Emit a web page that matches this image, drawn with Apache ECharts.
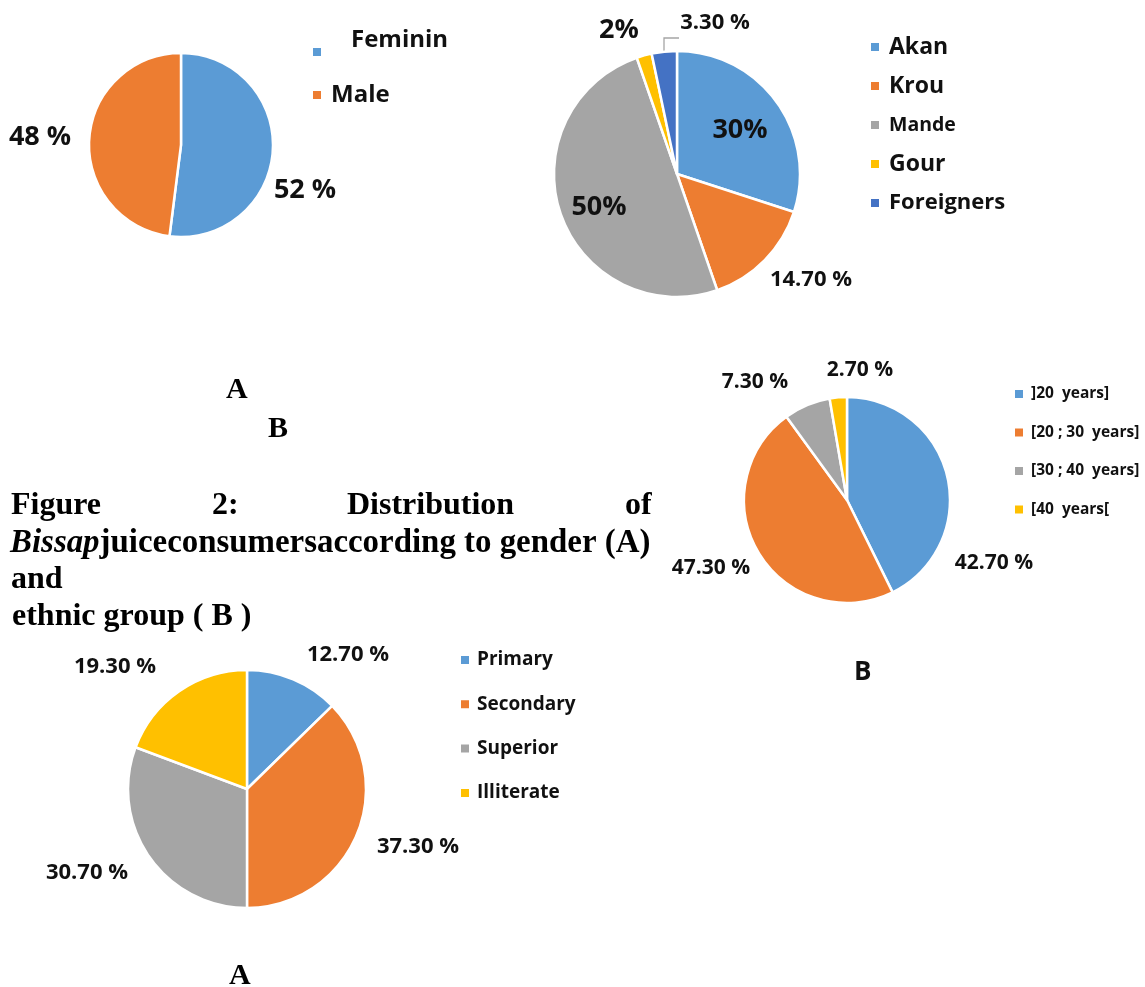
<!DOCTYPE html>
<html><head><meta charset="utf-8">
<script src="https://cdn.jsdelivr.net/npm/echarts@6/dist/echarts.min.js"></script>
<style>html,body{margin:0;padding:0;background:#fff}#c{width:1145px;height:987px}</style>
</head><body><div id="c"></div>
<script>
// ---- data ----
const genderNames = ['Feminin', 'Male'];
const genderValues = [52, 48];
const genderLabels = ['52 %', '48 %'];

const ethnicNames = ['Akan', 'Krou', 'Mande', 'Gour', 'Foreigners'];
const ethnicValues = [30, 14.7, 50, 2, 3.3];
const ethnicLabels = ['30%', '14.70 %', '50%', '2%', '3.30 %'];

const ageNames = [']20  years]', '[20 ; 30  years]', '[30 ; 40  years]', '[40  years['];
const ageValues = [42.7, 47.3, 7.3, 2.7];
const ageLabels = ['42.70 %', '47.30 %', '7.30 %', '2.70 %'];

const eduNames = ['Primary', 'Secondary', 'Superior', 'Illiterate'];
const eduValues = [12.7, 37.3, 30.7, 19.3];
const eduLabels = ['12.70 %', '37.30 %', '30.70 %', '19.30 %'];

// ---- style / layout ----
const COLORS = ['#5B9BD5', '#ED7D31', '#A5A5A5', '#FFC000', '#4472C4'];
const SANS = '"Open Sans", Lato, sans-serif';
const SERIF = '"Liberation Serif", "Times New Roman", serif';

const genderLabelPos = [[305, 190], [40, 137]];
const ethnicLabelPos = [[740, 130], [811, 280], [599, 207], [619, 30], [715, 23]];
const ethnicLabelSize = [27, 22, 27, 27, 22];
const ageLabelPos = [[994, 563], [711, 568], [755, 382], [860, 370]];
const eduLabelPos = [[348, 655], [418, 847], [87, 873], [115, 667]];

function pieSeries(names, values, labels, pos, center, radius, fontSize, sizes) {
  return {
    type: 'pie',
    center: center,
    radius: radius,
    startAngle: 90,
    clockwise: true,
    animation: false,
    silent: true,
    itemStyle: { borderColor: '#fff', borderWidth: 2.5 },
    label: {
      show: true,
      position: 'outside',
      overflow: 'none',
      fontFamily: SANS, fontWeight: 'bold', fontSize: fontSize, color: '#111',
      formatter: p => labels[p.dataIndex]
    },
    labelLine: { show: false },
    labelLayout: p => ({ x: pos[p.dataIndex][0], y: pos[p.dataIndex][1], align: 'center', verticalAlign: 'middle' }),
    emphasis: { disabled: true },
    data: names.map((n, i) => {
      const d = { name: n, value: values[i], itemStyle: { color: COLORS[i] } };
      if (sizes) d.label = { fontSize: sizes[i] };
      return d;
    })
  };
}

const ethnicSeries = pieSeries(ethnicNames, ethnicValues, ethnicLabels, ethnicLabelPos, [677, 174], 123, 22, ethnicLabelSize);
ethnicSeries.data[4].labelLine = { show: true, lineStyle: { color: '#A5A5A5', width: 1.3 } };
ethnicSeries.labelLayout = p => {
  const o = { x: ethnicLabelPos[p.dataIndex][0], y: ethnicLabelPos[p.dataIndex][1], align: 'center', verticalAlign: 'middle' };
  if (p.dataIndex === 4) o.labelLinePoints = [[664, 54], [664, 38], [679, 38]];
  return o;
};

function legendOf(names, left, top, gap, fontSizes, lineHeight, padLeft) {
  return {
    orient: 'vertical', left: left, top: top, itemGap: gap, padding: 0,
    itemWidth: 10, itemHeight: 10, icon: 'rect', selectedMode: false,
    data: names.map((n, i) => ({
      name: n,
      textStyle: { fontSize: fontSizes[i], lineHeight: lineHeight, fontFamily: SANS, fontWeight: 'bold', color: '#111', padding: [0, 0, 0, padLeft] }
    })),
    textStyle: { fontFamily: SANS, fontWeight: 'bold', color: '#111' }
  };
}

const genderLegend = legendOf(genderNames, 311, 28, 7, [24, 24], 24, 4);
genderLegend.formatter = name => name === 'Feminin' ? '{f|Feminin}\n{g| }' : name;
genderLegend.textStyle.rich = {
  f: { fontFamily: SANS, fontWeight: 'bold', fontSize: 24, lineHeight: 24, color: '#111', padding: [0, 0, 0, 20] },
  g: { fontSize: 24, lineHeight: 24 }
};

const option = {
  backgroundColor: '#fff',
  animation: false,
  legend: [
    genderLegend,
    legendOf(ethnicNames, 869, 35, 15, [23, 23, 19.5, 23, 22], 24, 4),
    legendOf(ageNames, 1013, 385, 20.5, [15.5, 15.5, 15.5, 15.5], 18, 2),
    legendOf(eduNames, 459, 649, 22.3, [19, 19, 19, 19], 22, 2)
  ],
  series: [
    pieSeries(genderNames, genderValues, genderLabels, genderLabelPos, [181, 145], 92, 27),
    ethnicSeries,
    pieSeries(ageNames, ageValues, ageLabels, ageLabelPos, [847, 500], 103, 21),
    pieSeries(eduNames, eduValues, eduLabels, eduLabelPos, [247, 789], 119, 22)
  ],
  graphic: [
    { type: 'text', left: 226, top: 375, style: { text: 'A', font: 'bold 30px ' + SERIF, fill: '#000' } },
    { type: 'text', left: 268, top: 414, style: { text: 'B', font: 'bold 30px ' + SERIF, fill: '#000' } },
    { type: 'text', left: 11, top: 490, style: { text: 'Figure', font: 'bold 32px ' + SERIF, fill: '#000' } },
    { type: 'text', left: 212, top: 490, style: { text: '2:', font: 'bold 32px ' + SERIF, fill: '#000' } },
    { type: 'text', left: 347, top: 490, style: { text: 'Distribution', font: 'bold 32px ' + SERIF, fill: '#000' } },
    { type: 'text', left: 625, top: 490, style: { text: 'of', font: 'bold 32px ' + SERIF, fill: '#000' } },
    { type: 'text', left: 10, top: 527, style: {
      text: '{i|Bissap}{b|juiceconsumersaccording to gender (A)}',
      rich: {
        i: { font: 'italic bold 32.9px ' + SERIF, fill: '#000' },
        b: { font: 'bold 32.9px ' + SERIF, fill: '#000' }
      } } },
    { type: 'text', left: 11, top: 564, style: { text: 'and', font: 'bold 32px ' + SERIF, fill: '#000' } },
    { type: 'text', left: 12, top: 601, style: { text: 'ethnic group ( B )', font: 'bold 32px ' + SERIF, fill: '#000' } },
    { type: 'text', left: 854, top: 660, style: { text: 'B', font: 'bold 26px ' + SANS, fill: '#111' } },
    { type: 'text', left: 229, top: 961, style: { text: 'A', font: 'bold 30px ' + SERIF, fill: '#000' } }
  ]
};

const chart = echarts.init(document.getElementById('c'), null, { renderer: 'canvas' });
chart.setOption(option);
</script>
</body></html>
